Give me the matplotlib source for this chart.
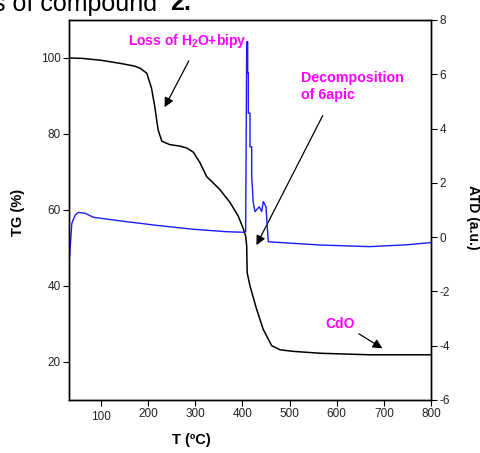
import matplotlib
matplotlib.use("Agg")
import matplotlib.pyplot as plt
from matplotlib.transforms import ScaledTranslation

plt.rcParams['font.family'] = ['Liberation Sans', 'DejaVu Sans']
plt.rcParams['mathtext.fontset'] = 'custom'
plt.rcParams['mathtext.rm'] = 'Liberation Sans'
plt.rcParams['mathtext.bf'] = 'Liberation Sans:bold'
plt.rcParams['axes.unicode_minus'] = False

# TG curve (left axis, %)
tg_T = [32, 60, 100, 140, 170, 183, 197, 207, 214, 221, 229, 246, 268, 282,
        296, 310, 324, 338, 352, 374, 391, 402, 407, 409, 410, 416, 430, 444,
        462, 480, 508, 565, 670, 800]
tg_val = [100, 99.9, 99.4, 98.6, 97.9, 97.3, 96.0, 92.1, 87.2, 81.1, 78.1, 77.2,
          76.8, 76.3, 75.2, 72.4, 68.8, 67.1, 65.4, 61.9, 58.4, 55.0, 53.0, 50.5,
          43.5, 40.0, 33.9, 28.6, 24.3, 23.2, 22.8, 22.3, 21.9, 21.9]

# ATD curve (right axis, a.u.)
atd_T = [32, 38, 45, 52, 66, 84, 154, 225, 296, 366, 402, 406.8, 409, 411.1,
         411.1, 412.4, 412.4, 416, 416, 419.6, 419.6, 423, 426.6, 435.7, 440.8,
         444.2, 449.9, 452.7, 454.8, 500, 565, 670, 750, 800]
atd_val = [-1.03, 0.51, 0.81, 0.91, 0.88, 0.73, 0.57, 0.42, 0.29, 0.20, 0.18, 0.20,
           7.20, 7.20, 6.05, 6.05, 4.57, 4.57, 3.33, 3.33, 2.23, 1.26, 0.94, 1.12,
           0.94, 1.31, 1.12, 0.38, -0.17, -0.22, -0.29, -0.35, -0.28, -0.20]

fig = plt.figure(figsize=(4.81, 4.53), dpi=100)
ax = fig.add_axes([69/481, 53/453, 362/481, 380/453])
ax2 = ax.twinx()

ax.plot(tg_T, tg_val, color='black', lw=1.1)
ax2.plot(atd_T, atd_val, color='#1a1aff', lw=1.0)

ax.set_xlim(32, 800)
ax.set_ylim(10, 110)
ax2.set_ylim(-6, 8)

ax.set_xticks(range(100, 801, 100))
ax.set_yticks(range(20, 101, 20))
ax2.set_yticks(range(-6, 9, 2))
for a in (ax, ax2):
    a.tick_params(direction='out', length=4, width=0.8, labelsize=8.5,
                  labelcolor='#222222', pad=2)
    for s in a.spines.values():
        s.set_linewidth(1.0)

# the "100" label sits a little lower in the original
lbl = ax.xaxis.get_major_ticks()[0].label1
lbl.set_transform(lbl.get_transform() + ScaledTranslation(0, -3/100, fig.dpi_scale_trans))

ax.annotate('', xy=(232, 86.4), xytext=(289, 99.9),
            arrowprops=dict(arrowstyle='-|>', color='black', lw=0.9, mutation_scale=14))
ax.annotate('', xy=(427, 50.1), xytext=(573, 85.5),
            arrowprops=dict(arrowstyle='-|>', color='black', lw=0.9, mutation_scale=14))
ax.annotate('', xy=(702, 23.2), xytext=(642, 27.8),
            arrowprops=dict(arrowstyle='-|>', color='black', lw=0.9, mutation_scale=14))

ax.text(157, 104.5, r'Loss of H$_\mathbf{2}$O+bipy', color='#ff00ff',
        fontsize=10, fontweight='bold', va='center', ha='left')
ax.text(524, 92.5, 'Decomposition\nof 6apic', color='#ff00ff', fontsize=10.3,
        fontweight='bold', va='center', ha='left', linespacing=1.25)
ax.text(575, 30, 'CdO', color='#ff00ff', fontsize=10, fontweight='bold',
        va='center', ha='left')

fig.text(18/481, 1 - 212/453, 'TG (%)', rotation=90, ha='center', va='center',
         fontsize=10.5, fontweight='bold')
fig.text(191/481, 1 - 440/453, 'T (ºC)', ha='center', va='center',
         fontsize=10.5, fontweight='bold')
fig.text(473/481, 1 - 217/453, 'ATD (a.u.)', rotation=-90, ha='center', va='center',
         fontsize=10, fontweight='bold')

# cropped caption from the source page
fig.text(157/481, 1 - 10.5/453, 's of compound', ha='right', va='baseline', fontsize=18)
fig.text(170/481, 1 - 10.5/453, '2.', ha='left', va='baseline', fontsize=18,
         fontweight='bold')

fig.savefig('out.png', dpi=100)
